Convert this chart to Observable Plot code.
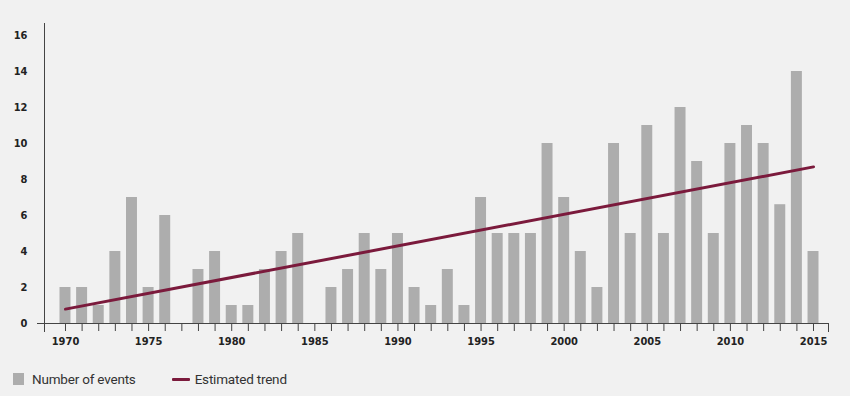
<!DOCTYPE html>
<html>
<head>
<meta charset="utf-8">
<script src="https://cdn.jsdelivr.net/npm/d3@7"></script>
<script src="https://cdn.jsdelivr.net/npm/@observablehq/plot@0.6"></script>
<style>
  html, body { margin: 0; padding: 0; background: #f1f1f1; }
  #chart { width: 850px; }
  .legend { display: flex; align-items: center; height: 34px; font-family: Roboto, "Liberation Sans", sans-serif; font-size: 13.5px; color: #333; padding-left: 13px; letter-spacing: -0.2px; }
  .sw-bar { width: 11px; height: 12px; background: #adadad; margin-right: 8px; }
  .sw-line { width: 18px; height: 3px; background: #7b1a3c; margin-left: 36px; margin-right: 5px; border-radius: 1px; }
</style>
</head>
<body>
<div id="chart"></div>
<script>
const years = d3.range(1970, 2016);
const events = [2, 2, 1, 4, 7, 2, 6, 0, 3, 4,
                 1, 1, 3, 4, 5, 0, 2, 3, 5, 3,
                 5, 2, 1, 3, 1, 7, 5, 5, 5, 10,
                 7, 4, 2, 10, 5, 11, 5, 12, 9, 5,
                 10, 11, 10, 6.6, 14, 4];
const trendYears = [1970, 2015];
const trendValues = [0.8, 8.7];
const yTicks = [0, 2, 4, 6, 8, 10, 12, 14, 16];
const xTicks = [1970, 1975, 1980, 1985, 1990, 1995, 2000, 2005, 2010, 2015];

const barData = years.map((y, i) => ({year: y, value: events[i]}));
const trendData = trendYears.map((y, i) => ({year: y, value: trendValues[i]}));

const axisColor = "#444";

const chart = Plot.plot({
  width: 850,
  height: 362,
  marginLeft: 44,
  marginRight: 22,
  marginTop: 23,
  marginBottom: 39,
  style: {background: "transparent", fontFamily: "'Liberation Sans Narrow', 'DejaVu Sans Condensed', sans-serif"},
  x: {type: "band", domain: years, paddingInner: 0.34, paddingOuter: 0, round: false, insetLeft: 15.5, insetRight: 9.5, label: null},
  y: {domain: [0, 16], insetTop: 12, label: null},
  marks: [
    Plot.frame({anchor: "left", stroke: axisColor, strokeWidth: 1, insetBottom: -8}),
    Plot.frame({anchor: "right", stroke: axisColor, strokeWidth: 1, insetTop: 300, insetBottom: -8}),
    Plot.barY(barData, {x: "year", y: "value", fill: "#adadad"}),
    Plot.ruleY([0], {stroke: axisColor, strokeWidth: 1, insetLeft: -7}),
    Plot.axisX({tickSize: 8, tickPadding: 6, ticks: years, tickFormat: d => xTicks.includes(d) ? String(d) : "", stroke: axisColor, fontSize: 11, fontWeight: "bold", fill: "#222"}),
    Plot.axisY({ticks: yTicks, tickSize: 0, tickPadding: 17, fontSize: 11, fontWeight: "bold", fill: "#222"}),
    Plot.lineY(trendData, {x: "year", y: "value", stroke: "#7b1a3c", strokeWidth: 3, strokeLinecap: "round"})
  ]
});
document.getElementById("chart").appendChild(chart);

const legend = document.createElement("div");
legend.className = "legend";
legend.innerHTML = '<span class="sw-bar"></span><span>Number of events</span><span class="sw-line"></span><span>Estimated trend</span>';
document.getElementById("chart").appendChild(legend);
</script>
</body>
</html>
